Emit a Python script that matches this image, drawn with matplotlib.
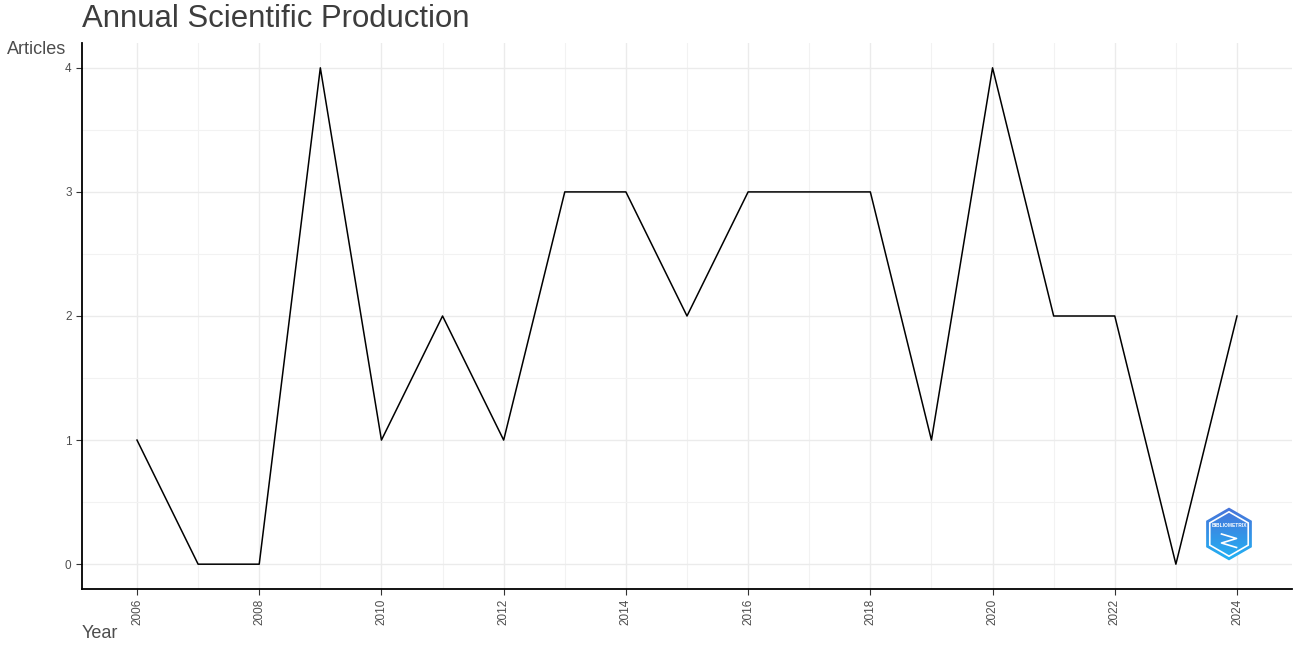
import numpy as np
import matplotlib.pyplot as plt
from matplotlib.patches import RegularPolygon
from matplotlib.colors import LinearSegmentedColormap

plt.rcParams['font.family'] = ['Liberation Sans', 'DejaVu Sans']

years = [2006, 2007, 2008, 2009, 2010, 2011, 2012, 2013, 2014, 2015,
         2016, 2017, 2018, 2019, 2020, 2021, 2022, 2023, 2024]
articles = [1, 0, 0, 4, 1, 2, 1, 3, 3, 2, 3, 3, 3, 1, 4, 2, 2, 0, 2]

W, H = 1300, 650
fig = plt.figure(figsize=(W / 100, H / 100), dpi=100)
ax = fig.add_axes([82 / W, 1 - 589 / H, (1292 - 82) / W, (589 - 43) / H])

ax.plot(years, articles, color='black', lw=1.1, zorder=3)

# ggplot style expansion: 5% each side
xr = years[-1] - years[0]
ax.set_xlim(years[0] - 0.05 * xr, years[-1] + 0.05 * xr)
ax.set_ylim(-0.05 * 4, 4 + 0.05 * 4)

ax.set_xticks(range(2006, 2025, 2))
ax.set_xticks(range(2007, 2025, 2), minor=True)
ax.set_yticks(range(0, 5))
ax.set_yticks(np.arange(0.5, 4, 1), minor=True)
ax.grid(which='major', color='#ebebeb', lw=1.0, zorder=0)
ax.grid(which='minor', color='#f2f2f2', lw=0.8, zorder=0)
ax.set_axisbelow(True)

for s in ['top', 'right']:
    ax.spines[s].set_visible(False)
for s in ['left', 'bottom']:
    ax.spines[s].set_color('black')
    ax.spines[s].set_linewidth(1.3)

ax.tick_params(which='major', length=4, width=0.8, color='#333333',
               labelsize=8.5, labelcolor='#4d4d4d')
ax.tick_params(axis='x', pad=3)
ax.tick_params(which='minor', length=0)
plt.setp(ax.get_xticklabels(), rotation=90)

fig.text(82 / W, 1 - 19 / H, 'Annual Scientific Production', fontsize=22.4,
         color='#3d3d3d', ha='left', va='center')
fig.text(7 / W, 1 - 50 / H, 'Articles', fontsize=13, color='#4d4d4d',
         ha='left', va='center')
fig.text(82 / W, 1 - 633 / H, 'Year', fontsize=13, color='#4d4d4d',
         ha='left', va='center')

# small hexagon logo in the bottom right corner
lax = fig.add_axes([(1229 - 30) / W, 1 - (534 + 30) / H, 60 / W, 60 / H])
lax.set_xlim(-1, 1)
lax.set_ylim(-1, 1)
lax.axis('off')
grad = np.linspace(0, 1, 100).reshape(-1, 1)
img = lax.imshow(grad, extent=[-1, 1, -1, 1],
                 cmap=LinearSegmentedColormap.from_list('g', ['#4a6fd8', '#1fb6f5']),
                 origin='upper', aspect='auto')
hexagon = RegularPolygon((0, 0), 6, radius=0.88, orientation=0, transform=lax.transData,
                         facecolor='none', edgecolor='none')
lax.add_patch(hexagon)
img.set_clip_path(hexagon)
inner = RegularPolygon((0, 0), 6, radius=0.74, orientation=0, facecolor='none',
                       edgecolor='white', lw=1.2)
lax.add_patch(inner)
lax.text(0, 0.28, 'BIBLIOMETRIX', fontsize=3.5, color='white', ha='center',
         va='center', fontweight='bold')
lax.plot([-0.25, 0.25, -0.25, 0.25], [0.0, -0.15, -0.3, -0.45], color='white', lw=1.2)

fig.savefig('out.png', dpi=100)
